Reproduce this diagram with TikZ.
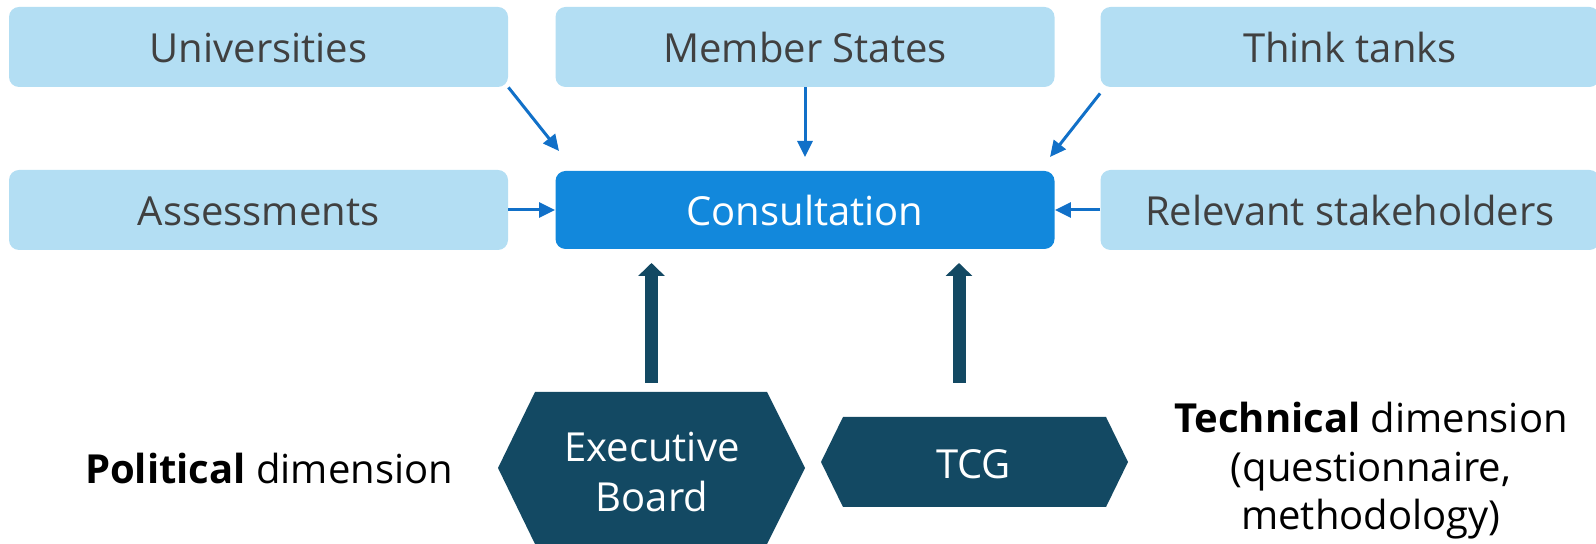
\documentclass[tikz,border=0pt]{standalone}
\usepackage{fontspec}
\setmainfont{Open Sans}
\usetikzlibrary{arrows.meta}
\definecolor{lightbox}{HTML}{B3DEF3}
\definecolor{consult}{HTML}{1288DC}
\definecolor{arrowblue}{HTML}{1170C8}
\definecolor{navy}{HTML}{134963}
\definecolor{txtgrey}{HTML}{404040}
\newcommand{\stacklines}[2]{\vtop{\baselineskip=#1\lineskiplimit=-100pt\relax\halign{\hfil##\hfil\cr#2\crcr}}}
\begin{document}
\begin{tikzpicture}[x=0.5pt,y=-0.5pt,
  boxfont/.style={font=\fontsize{20}{24}\selectfont},
  srcbox/.style={boxfont, fill=lightbox, rounded corners=5pt, minimum width=249.5pt, minimum height=40pt, text=txtgrey, inner sep=0pt, text height=16pt, text depth=0pt},
  mainbox/.style={srcbox, fill=consult, text=white, minimum height=39pt},
  thin/.style={draw=arrowblue, line width=1.5pt, -{Triangle[length=8pt,width=7.5pt]}},
  thick/.style={draw=navy, line width=6.5pt, -{Triangle[length=6.5pt,width=13pt]}},
  hexfill/.style={fill=navy},
  hextext/.style={boxfont, text=white, inner sep=0pt, anchor=base},
  dimtext/.style={boxfont, text=black, inner sep=0pt, anchor=base}
]
\useasboundingbox (0,0) rectangle (1596,544);

% source boxes
\node[srcbox] (univ)   at (258.5,47) {Universities};
\node[srcbox] (member) at (805,47)   {Member States};
\node[srcbox] (think)  at (1350,47)  {Think tanks};
\node[srcbox] (assess) at (258.5,210) {Assessments};
\node[mainbox] (cons)  at (805,210)  {Consultation};
\node[srcbox] (rel)    at (1350,210) {Relevant stakeholders};

% thin arrows
\coordinate (univend) at (559,151);
\coordinate (memberend) at (805,157);
\coordinate (thinkend) at (1050,157);
\draw[thin] (univ.south east) -- (univend);
\draw[thin] (member.south) -- (memberend);
\draw[thin] (think.south west) ++(0,6) -- (thinkend);
\draw[thin] (assess.east) -- (cons.west);
\draw[thin] (rel.west) -- (cons.east);

% hexagons
\fill[hexfill] (535,392) -- (767,392) -- (805,468) -- (767,544) -- (535,544) -- (498,468) -- cycle;
\fill[hexfill] (843,417) -- (1106,417) -- (1128,462) -- (1106,507) -- (843,507) -- (821,462) -- cycle;
\node[hextext] (eb) at (652,462) {\stacklines{25pt}{Executive\cr Board}};
\node[hextext] (tcg) at (973.5,479) {TCG};

% thick arrows
\coordinate (ebstart) at (651.5,383);
\coordinate (ebend) at (651.5,263);
\coordinate (tcgstart) at (959,383);
\coordinate (tcgend) at (959,263);
\draw[thick] (ebstart) -- (ebend);
\draw[thick] (tcgstart) -- (tcgend);

% dimension labels
\node[dimtext] (pol) at (269,484) {\textbf{Political} dimension};
\node[dimtext] (tech) at (1371,433) {\stacklines{24.25pt}{\textbf{Technical} dimension\cr (questionnaire,\cr methodology)}};
\end{tikzpicture}
\end{document}
